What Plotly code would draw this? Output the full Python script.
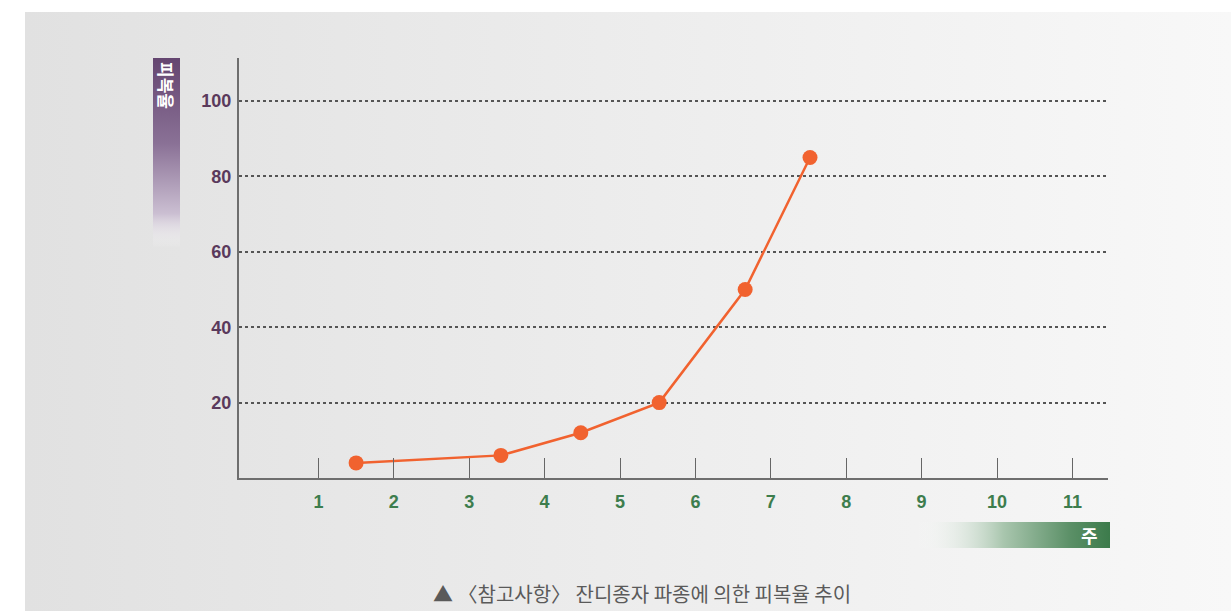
import base64
import plotly.graph_objects as go

# ---- data ----
weeks = [1.5, 3.42, 4.48, 5.52, 6.66, 7.52]
coverage = [4, 6, 12, 20, 50, 85]
x_ticks = [1, 2, 3, 4, 5, 6, 7, 8, 9, 10, 11]
x_tick_labels = [str(v) for v in x_ticks]
y_ticks = [20, 40, 60, 80, 100]
y_tick_labels = [str(v) for v in y_ticks]
y_title = "피복율"
x_title = "주"
caption = "▲ 〈참고사항〉 잔디종자 파종에 의한 피복율 추이"

W, H = 1231, 611


def px_x(p):
    return p / W


def px_y(p):
    return 1 - p / H


def grad_svg(stops, vertical):
    coords = 'x1="0" y1="0" x2="0" y2="1"' if vertical else 'x1="0" y1="0" x2="1" y2="0"'
    stop_xml = "".join(
        f'<stop offset="{o}" stop-color="{c}" stop-opacity="{a}"/>' for o, c, a in stops
    )
    svg = (
        '<svg xmlns="http://www.w3.org/2000/svg" width="100" height="100" preserveAspectRatio="none" viewBox="0 0 100 100">'
        f'<defs><linearGradient id="g" {coords}>{stop_xml}</linearGradient></defs>'
        '<rect x="0" y="0" width="100" height="100" fill="url(#g)"/></svg>'
    )
    return "data:image/svg+xml;base64," + base64.b64encode(svg.encode()).decode()


def box_image(src, x0, y0, x1, y1, layer="below"):
    return dict(
        source=src, xref="paper", yref="paper",
        x=px_x(x0), y=px_y(y0),
        sizex=px_x(x1) - px_x(x0), sizey=px_y(y0) - px_y(y1),
        xanchor="left", yanchor="top", sizing="stretch", layer=layer,
    )


fig = go.Figure()
fig.add_trace(go.Scatter(
    x=weeks, y=coverage, mode="lines+markers",
    line=dict(color="#f1622f", width=2.5),
    marker=dict(color="#f1622f", size=15),
    showlegend=False, hoverinfo="x+y",
))

x0_px = 243.0
unit_x = 75.4
left_px, right_px = 239, 1108
bottom_px, top_px = 478, 58
unit_y = (478 - 101) / 100.0

tick_family = "Liberation Sans Narrow, Liberation Sans, Arial, sans-serif"

fig.update_layout(
    width=W, height=H,
    margin=dict(l=0, r=0, t=0, b=0),
    paper_bgcolor="white",
    plot_bgcolor="rgba(0,0,0,0)",
    font=dict(family="Liberation Sans, Arial, sans-serif"),
    xaxis=dict(
        domain=[px_x(left_px), px_x(right_px)],
        range=[(left_px - x0_px) / unit_x, (right_px - x0_px) / unit_x],
        tickmode="array", tickvals=x_ticks, ticktext=x_tick_labels,
        ticks="inside", ticklen=20, tickwidth=1.2, tickcolor="#666666",
        showgrid=False, zeroline=False,
        showline=True, linecolor="#6e6e6e", linewidth=2,
        tickfont=dict(color="#3d7d4d", size=18, family=tick_family, weight="bold"),
        ticklabelstandoff=6,
        fixedrange=True,
    ),
    yaxis=dict(
        domain=[px_y(bottom_px), px_y(top_px)],
        range=[0, (bottom_px - top_px) / unit_y],
        tickmode="array", tickvals=y_ticks, ticktext=y_tick_labels,
        ticks="", showgrid=True, gridcolor="#555555", gridwidth=1.6, griddash="dot",
        zeroline=False,
        showline=True, linecolor="#6e6e6e", linewidth=2,
        tickfont=dict(color="#5a3a5c", size=18, family=tick_family, weight="bold"),
        ticklabelstandoff=2,
        fixedrange=True,
    ),
    images=[
        box_image(grad_svg([(0, "#e1e1e1", 1), (1, "#f8f8f8", 1)], False), 25, 12, 1231, 611),
        box_image(grad_svg([(0, "#644570", 1), (0.45, "#8a7196", 1),
                            (0.82, "#cbbfd2", 1), (1, "#ffffff", 0)], True), 153, 58, 180, 248),
        box_image(grad_svg([(0, "#ffffff", 0), (0.45, "#a9c6ae", 1),
                            (0.8, "#5a8f66", 1), (1, "#3c7b4b", 1)], False), 916, 522, 1110, 548),
    ],
    annotations=[
        dict(text=f"<b>{y_title}</b>", xref="paper", yref="paper",
             x=px_x(166.5), y=px_y(60), xanchor="center", yanchor="top",
             textangle=90, showarrow=False,
             font=dict(color="white", size=17, family="Noto Sans CJK KR")),
        dict(text=f"<b>{x_title}</b>", xref="paper", yref="paper",
             x=px_x(1089), y=px_y(535), xanchor="center", yanchor="middle",
             showarrow=False,
             font=dict(color="white", size=18, family="Noto Sans CJK KR")),
        dict(text=caption, xref="paper", yref="paper",
             x=px_x(642), y=px_y(593), xanchor="center", yanchor="middle",
             showarrow=False,
             font=dict(color="#5a5a5a", size=20, family="Noto Sans CJK KR")),
    ],
)

fig.write_html("out.html", post_script="document.body.style.margin='0';",
               config={"displayModeBar": False})
